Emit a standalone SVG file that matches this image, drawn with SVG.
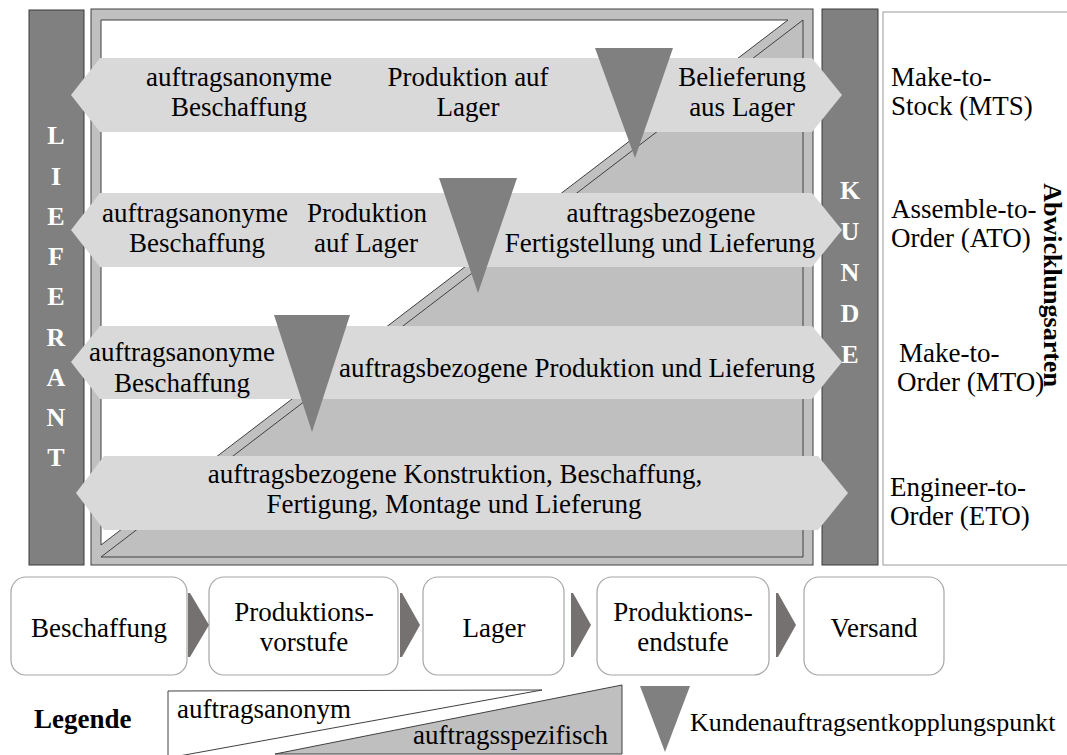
<svg xmlns="http://www.w3.org/2000/svg" width="1067" height="755" viewBox="0 0 1067 755" font-family="'Liberation Serif', Tinos, 'Times New Roman', 'DejaVu Serif', serif">
  <style>
    text { font-family: "Liberation Serif", Tinos, "Times New Roman", "DejaVu Serif", serif; fill: #000; }
    .t { font-size: 27px; }
    .c { text-anchor: middle; }
    .bar { fill: #808080; stroke: #3a3a3a; stroke-width: 1; }
    .barletter { font-size: 26px; font-weight: bold; fill: #ffffff; text-anchor: middle; }
    .row { fill: #d9d9d9; }
    .kep { fill: #808080; }
    .step { fill: #ffffff; stroke: #a6a6a6; stroke-width: 1.2; }
    .chev { fill: #767171; }
    .edge { stroke: #404040; stroke-width: 1; }
  </style>

  <rect width="1067" height="755" fill="#ffffff"/>

  <!-- supplier bar -->
  <g id="lieferant">
    <rect class="bar" x="29" y="10" width="55" height="555"/>
    <text class="barletter" x="56" y="144">L</text>
    <text class="barletter" x="56" y="185">I</text>
    <text class="barletter" x="56" y="225">E</text>
    <text class="barletter" x="56" y="265">F</text>
    <text class="barletter" x="56" y="305">E</text>
    <text class="barletter" x="56" y="346">R</text>
    <text class="barletter" x="56" y="386">A</text>
    <text class="barletter" x="56" y="426">N</text>
    <text class="barletter" x="56" y="466">T</text>
  </g>

  <!-- customer bar -->
  <g id="kunde">
    <rect class="bar" x="822" y="9" width="56" height="556"/>
    <text class="barletter" x="850" y="199">K</text>
    <text class="barletter" x="850" y="240">U</text>
    <text class="barletter" x="850" y="281">N</text>
    <text class="barletter" x="850" y="322">D</text>
    <text class="barletter" x="850" y="363">E</text>
  </g>

  <!-- frame: order-anonymous (white) vs order-specific (grey) area -->
  <g id="frame">
    <rect x="91" y="9" width="722" height="556" fill="#c0c0c0" class="edge"/>
    <polygon points="101,20 788,20 101,545" fill="#ffffff" class="edge"/>
    <polygon points="101,557 803,20 803,557" fill="#bfbfbf" class="edge"/>
  </g>

  <!-- side panel with order types -->
  <g id="abwicklungsarten">
    <rect x="883" y="12" width="190" height="553" fill="#ffffff" stroke="#9a9a9a" stroke-width="1"/>
    <text class="t" x="891" y="86">Make-to-</text>
    <text class="t" x="891" y="115">Stock (MTS)</text>
    <text class="t" x="891" y="218">Assemble-to-</text>
    <text class="t" x="891" y="247">Order (ATO)</text>
    <text class="t" x="899" y="362">Make-to-</text>
    <text class="t" x="897" y="391">Order (MTO)</text>
    <text class="t" x="890" y="496">Engineer-to-</text>
    <text class="t" x="890" y="525">Order (ETO)</text>
    <text class="c" font-size="26" font-weight="bold" transform="translate(1044,285) rotate(90)">Abwicklungsarten</text>
  </g>

  <!-- Make-to-Stock row -->
  <g id="row-mts">
    <polygon class="row" points="71,95 100,58 812,58 842,95 812,132 100,132"/>
    <text class="t c" x="239" y="86">auftragsanonyme</text>
    <text class="t c" x="239" y="116">Beschaffung</text>
    <text class="t c" x="468" y="86">Produktion auf</text>
    <text class="t c" x="468" y="116">Lager</text>
    <text class="t c" x="742" y="86">Belieferung</text>
    <text class="t c" x="742" y="116">aus Lager</text>
    <polygon class="kep" points="595,48 673,48 635,158"/>
  </g>

  <!-- Assemble-to-Order row -->
  <g id="row-ato">
    <polygon class="row" points="71,230 100,193 812,193 842,230 812,267 100,267"/>
    <text class="t c" x="195" y="222">auftragsanonyme</text>
    <text class="t c" x="197" y="252">Beschaffung</text>
    <text class="t c" x="367" y="222">Produktion</text>
    <text class="t c" x="366" y="252">auf Lager</text>
    <text class="t c" x="661" y="222">auftragsbezogene</text>
    <text class="t c" x="660" y="252">Fertigstellung und Lieferung</text>
    <polygon class="kep" points="439,178 517,178 478,293"/>
  </g>

  <!-- Make-to-Order row -->
  <g id="row-mto">
    <polygon class="row" points="71,362 100,326 812,326 842,362 812,399 100,399"/>
    <text class="t c" x="182" y="361">auftragsanonyme</text>
    <text class="t c" x="182" y="392">Beschaffung</text>
    <text class="t c" x="577" y="377">auftragsbezogene Produktion und Lieferung</text>
    <polygon class="kep" points="274,315 350,315 312,432"/>
  </g>

  <!-- Engineer-to-Order row -->
  <g id="row-eto">
    <polygon class="row" points="76,493 104,456 818,456 848,493 818,530 104,530"/>
    <text class="t c" x="455" y="483">auftragsbezogene Konstruktion, Beschaffung,</text>
    <text class="t c" x="454" y="513">Fertigung, Montage und Lieferung</text>
  </g>

  <!-- process steps -->
  <g id="step-beschaffung">
    <rect class="step" x="11" y="577" width="176" height="98" rx="15"/>
    <text class="t c" x="99" y="637">Beschaffung</text>
  </g>
  <g id="step-vorstufe">
    <rect class="step" x="209" y="577" width="189" height="98" rx="15"/>
    <text class="t c" x="304" y="621">Produktions-</text>
    <text class="t c" x="304" y="651">vorstufe</text>
  </g>
  <g id="step-lager">
    <rect class="step" x="423" y="577" width="141" height="98" rx="15"/>
    <text class="t c" x="494" y="637">Lager</text>
  </g>
  <g id="step-endstufe">
    <rect class="step" x="597" y="577" width="172" height="98" rx="15"/>
    <text class="t c" x="683" y="621">Produktions-</text>
    <text class="t c" x="683" y="651">endstufe</text>
  </g>
  <g id="step-versand">
    <rect class="step" x="804" y="577" width="140" height="98" rx="15"/>
    <text class="t c" x="874" y="637">Versand</text>
  </g>

  <!-- flow chevrons between steps -->
  <g id="connectors">
    <polygon class="chev" points="188,593 190,593 209,625 190,657 188,657"/>
    <polygon class="chev" points="400,593 402,593 420,625 402,657 400,657"/>
    <polygon class="chev" points="571,593 573,593 591,625 573,657 571,657"/>
    <polygon class="chev" points="776,593 778,593 796,625 778,657 776,657"/>
  </g>

  <!-- legend -->
  <g id="legende">
    <text class="t" x="34" y="728" font-weight="bold">Legende</text>
    <polygon points="168,691 542,690 168,758" fill="#ffffff" class="edge"/>
    <polygon points="275,754 622,685 622,754" fill="#bfbfbf" class="edge"/>
    <text class="t" x="177" y="718">auftragsanonym</text>
    <text class="t" x="413" y="744">auftragsspezifisch</text>
    <polygon class="kep" points="640,686 690,686 665,752"/>
    <text x="690" y="731" font-size="26">Kundenauftragsentkopplungspunkt</text>
  </g>
</svg>
